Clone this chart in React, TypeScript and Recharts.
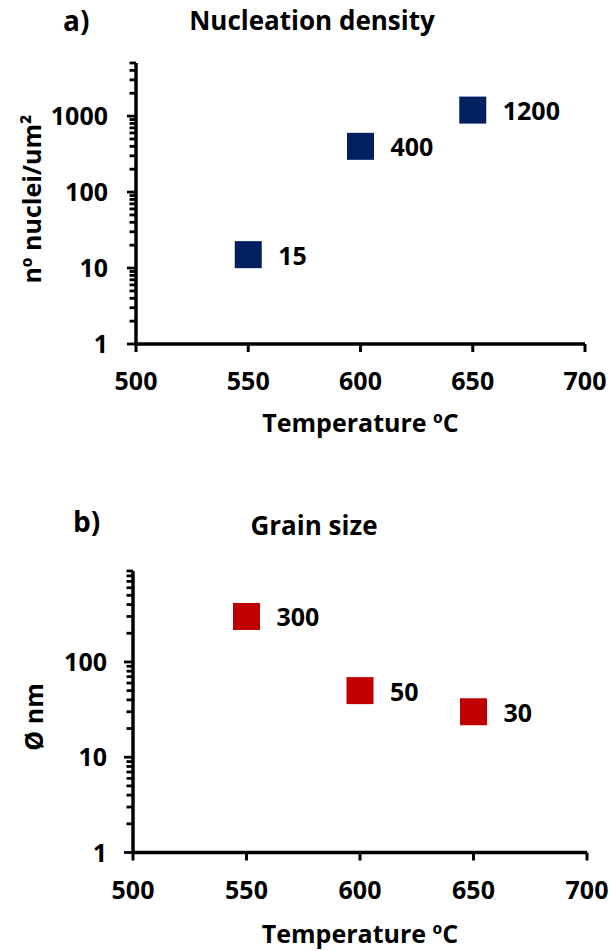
import React from 'react';
import { ScatterChart, Scatter, XAxis, YAxis, LabelList } from 'recharts';

const temperatures = [550, 600, 650];
const nucleiDensity = [15, 400, 1200];
const grainSize = [300, 50, 30];
const xTicks = [500, 550, 600, 650, 700];
const nucleiMajorTicks = [1, 10, 100, 1000];
const nucleiMinorTicks = [2, 3, 4, 5, 6, 7, 8, 9, 20, 30, 40, 50, 60, 70, 80, 90, 200, 300, 400, 500, 600, 700, 800, 900, 2000, 3000, 4000, 5000];
const grainMajorTicks = [1, 10, 100];
const grainMinorTicks = [2, 3, 4, 5, 6, 7, 8, 9, 20, 30, 40, 50, 60, 70, 80, 90, 200, 300, 400, 500, 600, 700, 800, 900];

const FONT = "'Open Sans', sans-serif";
const nucleiData = temperatures.map((t, i) => ({ x: t, y: nucleiDensity[i] }));
const grainData = temperatures.map((t, i) => ({ x: t, y: grainSize[i] }));

const makeYTick = (majors: number[], margin: number) => (props: any) => {
  const { x, y, payload } = props;
  const v = payload.value;
  const axisX = x + margin;
  const isMajor = majors.includes(v);
  const len = isMajor ? 9 : 6.5;
  return (
    <g>
      <line x1={axisX - len} x2={axisX} y1={y} y2={y} stroke="#000" strokeWidth={2.8} />
      {isMajor && (
        <text x={x} y={y} dy={9} textAnchor="end" fill="#000" fontSize={25} fontWeight={700} fontFamily={FONT}>
          {v}
        </text>
      )}
    </g>
  );
};

const squareShape = (color: string) => (props: any) => {
  const { cx, cy } = props;
  return <rect x={cx - 13.5} y={cy - 13.5} width={27} height={27} fill={color} />;
};

const dataLabel = (props: any) => {
  const vb = props.viewBox || props;
  const cx = vb.x + vb.width / 2;
  const cy = vb.y + vb.height / 2;
  return (
    <text x={cx + 30} y={cy + 10} textAnchor="start" fill="#000" fontSize={25} fontWeight={700} fontFamily={FONT}>
      {props.value}
    </text>
  );
};

const textStyle = { fill: '#000', fontSize: 25, fontWeight: 700, fontFamily: FONT };

const Title = ({ text, cx, baseline, size }: { text: string; cx: number; baseline: number; size: number }) => (
  <div
    style={{
      position: 'absolute',
      left: cx - 200,
      width: 400,
      top: baseline - size * 0.888,
      textAlign: 'center',
      fontFamily: FONT,
      fontWeight: 700,
      fontSize: size,
      lineHeight: `${size}px`,
      color: '#000',
      whiteSpace: 'nowrap',
    }}
  >
    {text}
  </div>
);

const Corner = ({ text, left, baseline }: { text: string; left: number; baseline: number }) => (
  <div
    style={{
      position: 'absolute',
      left,
      top: baseline - 28 * 0.888,
      fontFamily: FONT,
      fontWeight: 700,
      fontSize: 28,
      lineHeight: '28px',
      color: '#000',
    }}
  >
    {text}
  </div>
);

export default function App() {
  return (
    <div style={{ position: 'absolute', left: 0, top: 0, width: 610, height: 951, background: '#fff' }}>
      <div style={{ position: 'absolute', left: 0, top: 0 }}>
        <ScatterChart width={610} height={470} margin={{ top: 63, right: 25, left: 16, bottom: 26 }}>
          <XAxis
            type="number"
            dataKey="x"
            domain={[500, 700]}
            ticks={xTicks}
            interval={0}
            height={100}
            axisLine={{ stroke: '#000', strokeWidth: 3.5 }}
            tickLine={{ stroke: '#000', strokeWidth: 3 }}
            tickSize={8}
            tickMargin={20}
            tick={textStyle}
            label={{ value: 'Temperature ºC', position: 'insideBottom', offset: 12, ...textStyle }}
          />
          <YAxis
            type="number"
            dataKey="y"
            scale="log"
            domain={[1, 5000]}
            allowDataOverflow
            ticks={[...nucleiMajorTicks, ...nucleiMinorTicks].sort((a, b) => a - b)}
            interval={0}
            width={120}
            axisLine={{ stroke: '#000', strokeWidth: 3.5 }}
            tickLine={false}
            tickSize={0}
            tickMargin={28}
            tick={makeYTick(nucleiMajorTicks, 28)}
            label={{
              content: () => (
                <text x={41} y={199} transform="rotate(-90 41 199)" textAnchor="middle" {...textStyle}>
                  nº nuclei/um²
                </text>
              ),
            }}
          />
          <Scatter data={nucleiData} shape={squareShape('#002060')} isAnimationActive={false}>
            <LabelList dataKey="y" content={dataLabel} />
          </Scatter>
        </ScatterChart>
      </div>
      <div style={{ position: 'absolute', left: 0, top: 470 }}>
        <ScatterChart width={610} height={481} margin={{ top: 101, right: 23, left: 13, bottom: 8.5 }}>
          <XAxis
            type="number"
            dataKey="x"
            domain={[500, 700]}
            ticks={xTicks}
            interval={0}
            height={90}
            axisLine={{ stroke: '#000', strokeWidth: 3.5 }}
            tickLine={{ stroke: '#000', strokeWidth: 3 }}
            tickSize={8}
            tickMargin={21}
            tick={textStyle}
            label={{ value: 'Temperature ºC', position: 'insideBottom', offset: 0, ...textStyle }}
          />
          <YAxis
            type="number"
            dataKey="y"
            scale="log"
            domain={[1, 900]}
            allowDataOverflow
            ticks={[...grainMajorTicks, ...grainMinorTicks].sort((a, b) => a - b)}
            interval={0}
            width={120}
            axisLine={{ stroke: '#000', strokeWidth: 3.5 }}
            tickLine={false}
            tickSize={0}
            tickMargin={26}
            tick={makeYTick(grainMajorTicks, 26)}
            label={{
              content: () => (
                <text x={43} y={247} transform="rotate(-90 43 247)" textAnchor="middle" {...textStyle}>
                  Ø nm
                </text>
              ),
            }}
          />
          <Scatter data={grainData} shape={squareShape('#C00000')} isAnimationActive={false}>
            <LabelList dataKey="y" content={dataLabel} />
          </Scatter>
        </ScatterChart>
      </div>
      <Title text="Nucleation density" cx={312} baseline={30} size={26} />
      <Title text="Grain size" cx={314} baseline={535} size={26} />
      <Corner text="a)" left={63} baseline={31} />
      <Corner text="b)" left={73} baseline={532} />
    </div>
  );
}
